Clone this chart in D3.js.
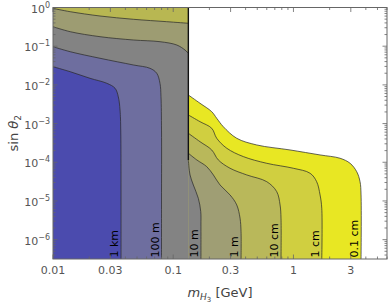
<!DOCTYPE html>
<html>
<head>
<meta charset="utf-8">
<script src="https://cdn.jsdelivr.net/npm/d3@7"></script>
<style>
  body { margin: 0; background: #fff; }
  svg { display: block; font-family: "DejaVu Sans", sans-serif; }
</style>
</head>
<body>
<div id="chart"></div>
<script>
// contour lines as [m (GeV), sin theta2] pairs
var mBoundary = 0.1336;
var yMin = 3.16e-7;

// left part (m < mBoundary), each line runs from the left edge
var line1km = [[0.01,0.0295],[0.0139,0.0219],[0.0203,0.0148],[0.028,0.011],[0.0328,0.0082],[0.0349,0.005],[0.0361,0.00225],[0.0366,0.00068],[0.0368,1e-5],[0.0368,yMin]];
var line100m = [[0.01,0.097],[0.0139,0.072],[0.0246,0.0487],[0.0466,0.0327],[0.0641,0.0268],[0.0729,0.02],[0.0776,0.011],[0.0791,0.005],[0.0799,0.00068],[0.0799,1e-5],[0.0799,yMin]];
var line10mLeft = [[0.01,0.319],[0.0139,0.237],[0.0246,0.176],[0.0466,0.1446],[0.0776,0.1307],[0.107,0.1074],[0.1253,0.0797],[mBoundary,0.0655]];
var line1mLeft = [[0.01,0.95],[0.0139,0.779],[0.0246,0.603],[0.0466,0.496],[0.0883,0.43],[mBoundary,0.391]];

// right part (m > mBoundary), each line runs from the boundary down to the bottom
var line01cm = [[mBoundary,0.00548],[0.167,0.00335],[0.209,0.00203],[0.23,0.00137],[0.261,0.00083],[0.3375,0.000417],[0.495,0.00028],[0.937,0.000208],[1.665,0.0001545],[2.44,0.000127],[2.96,0.000094],[3.36,0.000057],[3.58,0.0000315],[3.65,0.0000143],[3.65,yMin]];
var line1cm = [[mBoundary,0.00167],[0.167,0.00112],[0.209,0.000756],[0.23,0.000417],[0.279,0.00023],[0.383,0.00014],[0.6,0.000094],[0.998,0.00007],[1.375,0.000052],[1.56,0.0000315],[1.665,0.0000143],[1.72,0.0000065],[1.72,yMin]];
var line10cm = [[mBoundary,0.00056],[0.167,0.00034],[0.209,0.000208],[0.237,0.000115],[0.297,0.00007],[0.409,0.000047],[0.6,0.0000315],[0.726,0.0000174],[0.774,0.0000079],[0.788,0.0000036],[0.788,yMin]];
var line1mRight = [[mBoundary,0.000171],[0.157,0.000115],[0.19,0.000077],[0.2157,0.000047],[0.245,0.0000259],[0.297,0.0000143],[0.3375,0.0000079],[0.3595,0.0000036],[0.3665,0.0000016],[0.3665,yMin]];
var line10mRight = [[mBoundary,0.000115],[0.138,0.000047],[0.147,0.0000259],[0.1617,0.0000117],[0.1694,0.0000053],[0.17,0.0000024],[0.17,yMin]];

var contourLabels = ["1 km", "100 m", "10 m", "1 m", "10 cm", "1 cm", "0.1 cm"];
var labelLines = [line1km, line100m, line10mRight, line1mRight, line10cm, line1cm, line01cm];

var xTickValues = [0.01, 0.03, 0.1, 0.3, 1, 3];
var xTickLabels = ["0.01", "0.03", "0.1", "0.3", "1", "3"];
var yTickExps = [0, -1, -2, -3, -4, -5, -6];

var width = 390, height = 307;
var margin = {top: 7.5, right: 3, bottom: 48, left: 53};

var svg = d3.select("#chart").append("svg")
  .attr("width", width)
  .attr("height", height);

var xScale = d3.scaleLog()
  .domain([0.01, 6])
  .range([margin.left, width - margin.right]);

var yScale = d3.scaleLog()
  .domain([yMin, 1])
  .range([height - margin.bottom, margin.top]);

var x0 = xScale.range()[0], x1 = xScale.range()[1];
var y0 = yScale.range()[1], y1 = yScale.range()[0];

svg.append("clipPath").attr("id", "plotclip")
  .append("rect")
  .attr("x", x0).attr("y", y0)
  .attr("width", x1 - x0).attr("height", y1 - y0);

var plot = svg.append("g").attr("clip-path", "url(#plotclip)");

var curve = d3.line()
  .x(function(d) { return xScale(d[0]); })
  .y(function(d) { return yScale(d[1]); })
  .curve(d3.curveCatmullRom.alpha(0.5));

// contour path plus extra straight corners to close the band
var region = function(pts, corners) {
  var p = curve(pts);
  corners.forEach(function(c) {
    p += "L" + xScale(c[0]) + "," + yScale(c[1]);
  });
  return p + "Z";
};

// left part
plot.append("rect")
  .attr("x", xScale(0.01)).attr("y", yScale(1))
  .attr("width", xScale(mBoundary) - xScale(0.01))
  .attr("height", yScale(yMin) - yScale(1))
  .style("fill", "#4b4bae");

var leftBands = [
  {pts: line1km, fill: "#6e6e9f", corners: [[mBoundary,yMin],[mBoundary,1],[0.01,1]]},
  {pts: line100m, fill: "#838383", corners: [[mBoundary,yMin],[mBoundary,1],[0.01,1]]},
  {pts: line10mLeft, fill: "#9d9c72", corners: [[mBoundary,1],[0.01,1]]},
  {pts: line1mLeft, fill: "#b8b752", corners: [[mBoundary,1],[0.01,1]]}
];

plot.selectAll("path.left")
  .data(leftBands)
  .enter()
  .append("path")
  .attr("class", "left")
  .attr("d", function(d) { return region(d.pts, d.corners); })
  .style("fill", function(d) { return d.fill; });

// right part
var rightBands = [
  {pts: line01cm, fill: "#e8e723"},
  {pts: line1cm, fill: "#d0cf40"},
  {pts: line10cm, fill: "#b9b85a"},
  {pts: line1mRight, fill: "#9f9e74"},
  {pts: line10mRight, fill: "#838383"}
];

plot.selectAll("path.right")
  .data(rightBands)
  .enter()
  .append("path")
  .attr("class", "right")
  .attr("d", function(d) { return region(d.pts, [[mBoundary, yMin]]); })
  .style("fill", function(d) { return d.fill; });

// contour strokes
var allLines = [line1km, line100m, line10mLeft, line1mLeft, line01cm, line1cm, line10cm, line1mRight, line10mRight];
plot.selectAll("path.contour")
  .data(allLines)
  .enter()
  .append("path")
  .attr("class", "contour")
  .attr("d", curve)
  .style("fill", "none")
  .style("stroke", "#2a2a2a")
  .style("stroke-opacity", 0.8)
  .style("stroke-width", 0.9);

// threshold edge
plot.append("line")
  .attr("x1", xScale(mBoundary)).attr("x2", xScale(mBoundary))
  .attr("y1", yScale(1)).attr("y2", yScale(line10mRight[0][1]))
  .style("stroke", "#111")
  .style("stroke-width", 1.4);

// contour labels
svg.selectAll("text.clabel")
  .data(contourLabels)
  .enter()
  .append("text")
  .attr("class", "clabel")
  .attr("transform", function(d, i) {
    var pts = labelLines[i];
    var lx = xScale(pts[pts.length - 1][0]) - 3;
    return "translate(" + lx + "," + (y1 - 1.5) + ") rotate(-90)";
  })
  .style("font-size", "11px")
  .style("fill", "#000")
  .text(function(d) { return d; });

// frame
svg.append("rect")
  .attr("x", x0).attr("y", y0)
  .attr("width", x1 - x0).attr("height", y1 - y0)
  .style("fill", "none")
  .style("stroke", "#666")
  .style("stroke-width", 1);

// x ticks, all four sides inward
var xMinor = [];
[0.01, 0.1, 1].forEach(function(dec) {
  for (var k = 1; k <= 9; k++) {
    var v = dec * k;
    if (v <= 6) xMinor.push(v);
  }
});

var tickG = svg.append("g").style("stroke", "#666").style("stroke-width", 0.8);

xMinor.forEach(function(v) {
  var big = xTickValues.some(function(t) { return Math.abs(t - v) < 1e-9; });
  var len = big ? 4.5 : 2.5;
  var px = xScale(v);
  tickG.append("line").attr("x1", px).attr("x2", px).attr("y1", y1).attr("y2", y1 - len);
  tickG.append("line").attr("x1", px).attr("x2", px).attr("y1", y0).attr("y2", y0 + len);
});

yTickExps.forEach(function(e) {
  var py = yScale(Math.pow(10, e));
  tickG.append("line").attr("x1", x0).attr("x2", x0 + 4.5).attr("y1", py).attr("y2", py);
  tickG.append("line").attr("x1", x1).attr("x2", x1 - 4.5).attr("y1", py).attr("y2", py);
  for (var k = 2; k <= 9; k++) {
    var v = Math.pow(10, e) * k;
    if (v > 1) continue;
    var pm = yScale(v);
    tickG.append("line").attr("x1", x0).attr("x2", x0 + 2.5).attr("y1", pm).attr("y2", pm);
    tickG.append("line").attr("x1", x1).attr("x2", x1 - 2.5).attr("y1", pm).attr("y2", pm);
  }
});
// the decade below 1e-6
for (var k = 4; k <= 9; k++) {
  var pm = yScale(1e-7 * k);
  tickG.append("line").attr("x1", x0).attr("x2", x0 + 2.5).attr("y1", pm).attr("y2", pm);
  tickG.append("line").attr("x1", x1).attr("x2", x1 - 2.5).attr("y1", pm).attr("y2", pm);
}

// tick labels
svg.selectAll("text.xtick")
  .data(xTickValues)
  .enter()
  .append("text")
  .attr("class", "xtick")
  .attr("x", function(d) { return xScale(d); })
  .attr("y", y1 + 15)
  .attr("text-anchor", "middle")
  .style("font-size", "11px")
  .style("fill", "#555")
  .text(function(d, i) { return xTickLabels[i]; });

var yLabels = svg.selectAll("text.ytick")
  .data(yTickExps)
  .enter()
  .append("text")
  .attr("class", "ytick")
  .attr("x", x0 - 3)
  .attr("y", function(d) { return yScale(Math.pow(10, d)) + 5; })
  .attr("text-anchor", "end")
  .style("font-size", "11px")
  .style("fill", "#555");

yLabels.append("tspan").text("10");
yLabels.append("tspan")
  .attr("dy", -5)
  .style("font-size", "8px")
  .text(function(d) { return d === 0 ? "0" : "\u2212" + (-d); });

// axis titles
var xTitle = svg.append("text")
  .attr("x", (x0 + x1) / 2)
  .attr("y", 297)
  .attr("text-anchor", "middle")
  .style("font-size", "13px")
  .style("fill", "#444");
xTitle.append("tspan").style("font-style", "italic").text("m");
xTitle.append("tspan").attr("dy", 3).style("font-size", "9px").style("font-style", "italic").text("H");
xTitle.append("tspan").attr("dy", 2).style("font-size", "7px").text("3");
xTitle.append("tspan").attr("dy", -5).text(" [GeV]");

var yTitle = svg.append("text")
  .attr("transform", "translate(18," + ((y0 + y1) / 2) + ") rotate(-90)")
  .attr("text-anchor", "middle")
  .style("font-size", "13px")
  .style("fill", "#444");
yTitle.append("tspan").text("sin ");
yTitle.append("tspan").style("font-style", "italic").text("\u03b8");
yTitle.append("tspan").attr("dy", 3).style("font-size", "9px").text("2");
</script>
</body>
</html>
